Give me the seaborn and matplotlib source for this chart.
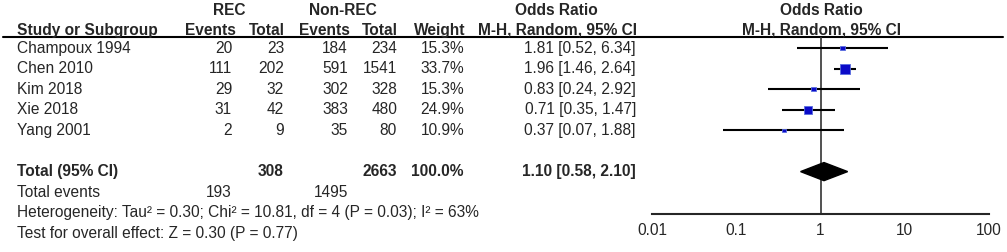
import numpy as np
import pandas as pd
import matplotlib
matplotlib.use('Agg')
import matplotlib.pyplot as plt
import seaborn as sns
from matplotlib.patches import Polygon

# Study level data
studies = ['Champoux 1994', 'Chen 2010', 'Kim 2018', 'Xie 2018', 'Yang 2001']
rec_events = [20, 111, 29, 31, 2]
rec_total = [23, 202, 32, 42, 9]
non_events = [184, 591, 302, 383, 35]
non_total = [234, 1541, 328, 480, 80]
weights = [15.3, 33.7, 15.3, 24.9, 10.9]
odds = [1.81, 1.96, 0.83, 0.71, 0.37]
ci_low = [0.52, 1.46, 0.24, 0.35, 0.07]
ci_high = [6.34, 2.64, 2.92, 1.47, 1.88]

# Pooled result
tot_rec_total = 308
tot_non_total = 2663
tot_weight = 100.0
tot_or = 1.10
tot_low = 0.58
tot_high = 2.10
tot_rec_events = 193
tot_non_events = 1495
heterogeneity = 'Heterogeneity: Tau² = 0.30; Chi² = 10.81, df = 4 (P = 0.03); I² = 63%'
overall = 'Test for overall effect: Z = 0.30 (P = 0.77)'
xticks = [0.01, 0.1, 1, 10, 100]
xticklabels = ['0.01', '0.1', '1', '10', '100']

df = pd.DataFrame({'study': studies, 'or': odds, 'lo': ci_low, 'hi': ci_high,
                   'weight': weights})
df['row'] = np.arange(len(df))
total_row = len(df) + 1

sns.set_style('white')
plt.rcParams['font.family'] = ['Liberation Sans', 'DejaVu Sans']
fs = 11.2

fig = plt.figure(figsize=(10.07, 2.52), dpi=100)
W, H = 1007, 252
px_row = 20.6   # pixels per table row
y0 = 48         # pixel of first study row


def prow(p):
    return (p - y0) / px_row


ylims = (prow(H), prow(0))

# table axes in pixel x, row y
tab = fig.add_axes([0, 0, 1, 1])
tab.set_xlim(0, W)
tab.set_ylim(*ylims)
tab.axis('off')

# forest axes, log scale
fx0, fx1 = 652, 989
ax = fig.add_axes([fx0 / W, 0, (fx1 - fx0) / W, 1])
ax.set_xscale('log')
ax.set_xlim(0.01, 100)
ax.set_ylim(*ylims)
ax.patch.set_alpha(0)

# column right edges (pixels)
c_ev1, c_tot1, c_ev2, c_tot2, c_w, c_or = 232, 284, 348, 397, 464, 636

# headers
h1, h2 = prow(10), prow(30)
bold = dict(fontsize=fs, fontweight='bold', va='center')
tab.text(229, h1, 'REC', ha='center', **bold)
tab.text(343, h1, 'Non-REC', ha='center', **bold)
tab.text(556, h1, 'Odds Ratio', ha='center', **bold)
tab.text(821, h1, 'Odds Ratio', ha='center', **bold)
tab.text(17, h2, 'Study or Subgroup', ha='left', **bold)
tab.text(c_ev1 + 4, h2, 'Events', ha='right', **bold)
tab.text(c_tot1 + 1, h2, 'Total', ha='right', **bold)
tab.text(c_ev2 + 2, h2, 'Events', ha='right', **bold)
tab.text(c_tot2 + 1, h2, 'Total', ha='right', **bold)
tab.text(c_w + 1, h2, 'Weight', ha='right', **bold)
tab.text(c_or + 1, h2, 'M-H, Random, 95% CI', ha='right', **bold)
tab.text(821, h2, 'M-H, Random, 95% CI', ha='center', **bold)
line_row = prow(37)
tab.plot([3, 1003], [line_row, line_row], color='black', lw=1.5)

# study rows
cols = [(c_ev1, rec_events), (c_tot1, rec_total), (c_ev2, non_events), (c_tot2, non_total)]
norm = dict(fontsize=fs, va='center')
for i, s in enumerate(studies):
    tab.text(17, i, s, ha='left', **norm)
    for x, vals in cols:
        tab.text(x, i, f'{vals[i]}', ha='right', **norm)
    tab.text(c_w, i, f'{weights[i]:.1f}%', ha='right', **norm)
    tab.text(c_or, i, f'{odds[i]:.2f} [{ci_low[i]:.2f}, {ci_high[i]:.2f}]', ha='right', **norm)

# totals
tab.text(17, total_row, 'Total (95% CI)', ha='left', **bold)
tab.text(c_tot1, total_row, f'{tot_rec_total}', ha='right', **bold)
tab.text(c_tot2, total_row, f'{tot_non_total}', ha='right', **bold)
tab.text(c_w, total_row, f'{tot_weight:.1f}%', ha='right', **bold)
tab.text(c_or, total_row, f'{tot_or:.2f} [{tot_low:.2f}, {tot_high:.2f}]', ha='right', **bold)
tab.text(17, total_row + 1, 'Total events', ha='left', **norm)
tab.text(c_ev1, total_row + 1, f'{tot_rec_events}', ha='right', **norm)
tab.text(c_ev2, total_row + 1, f'{tot_non_events}', ha='right', **norm)
tab.text(17, total_row + 2, heterogeneity, ha='left', **norm)
tab.text(17, total_row + 3, overall, ha='left', **norm)

# forest plot
axis_row = prow(214)
ax.vlines(1, line_row, axis_row, color='#333333', lw=1.2, zorder=1)
ax.hlines(df['row'], df['lo'], df['hi'], color='black', lw=1.5, zorder=2)
side = df['weight'] * 0.3 * 0.72  # square side in points
sns.scatterplot(data=df, x='or', y='row', marker='s', s=side ** 2,
                color='#0b0bc8', edgecolor='#5a6ee0', linewidth=0.6,
                zorder=3, ax=ax, legend=False)
dh = 0.44
ax.add_patch(Polygon([(tot_low, total_row), (tot_or, total_row - dh),
                      (tot_high, total_row), (tot_or, total_row + dh)],
                     closed=True, color='black', zorder=3))

for sp in ['top', 'right', 'left']:
    ax.spines[sp].set_visible(False)
ax.spines['bottom'].set_position(('data', axis_row))
ax.spines['bottom'].set_linewidth(1.5)
ax.set_xticks(xticks)
ax.set_xticklabels(xticklabels, fontsize=fs)
ax.xaxis.set_minor_locator(matplotlib.ticker.NullLocator())
ax.tick_params(axis='x', direction='inout', length=11, width=1.5, pad=1)
ax.set_yticks([])
ax.set_xlabel('')
ax.set_ylabel('')

fig.savefig('out.png', dpi=100)
